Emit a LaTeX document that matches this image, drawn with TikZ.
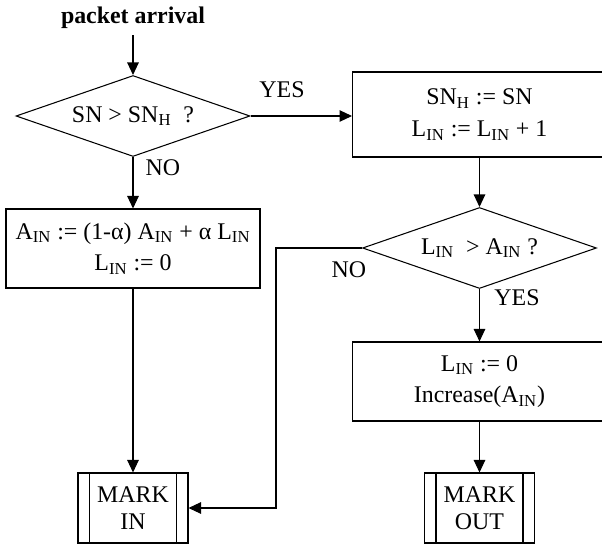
\documentclass[tikz,border=0pt]{standalone}
\usepackage{fontspec}
\setmainfont{Liberation Serif}
\usetikzlibrary{shapes.geometric,arrows.meta}
\begin{document}
\begin{tikzpicture}[x=0.02cm, y=-0.02cm, line width=0.6pt,
  font=\fontsize{13.6}{18}\selectfont,
  flowarrow/.style={-{Triangle[length=2.5mm,width=2.3mm]}},
  decision/.style={diamond, draw, aspect=2.9, inner sep=1pt, minimum width=4.68cm, minimum height=1.62cm},
  assignbox/.style={rectangle, draw, align=center, minimum width=5.08cm},
  markbox/.style={rectangle, draw, align=center, minimum width=2.2cm, minimum height=1.4cm, font=\fontsize{13.6}{15.5}\selectfont}]
\useasboundingbox (0,0) rectangle (602,544);
% nodes
\node[font=\fontsize{13.6}{16}\selectfont\bfseries] (arrival) at (133,18) {packet arrival};
\node[decision] (snh) at (133,116) {SN > SN\textsubscript{H}\ \ ?};
\node[assignbox, minimum height=1.7cm] (update) at (479.5,114.5) {SN\textsubscript{H} := SN\\L\textsubscript{IN} := L\textsubscript{IN} + 1};
\node[assignbox, minimum height=1.58cm] (average) at (133,248.5) {A\textsubscript{IN} := (1-α) A\textsubscript{IN} + α L\textsubscript{IN}\\L\textsubscript{IN} := 0};
\node[decision] (lin) at (479.5,248) {L\textsubscript{IN}\ \ > A\textsubscript{IN} ?};
\node[assignbox, minimum height=1.58cm] (reset) at (479.5,381.5) {L\textsubscript{IN} := 0\\Increase(A\textsubscript{IN})};
\node[markbox] (markin) at (133,508) {MARK\\IN};
\node[markbox] (markout) at (479.5,508) {MARK\\OUT};
\foreach \m in {markin,markout} {
  \draw ([xshift=0.24cm]\m.north west) -- ([xshift=0.24cm]\m.south west);
  \draw ([xshift=-0.24cm]\m.north east) -- ([xshift=-0.24cm]\m.south east);
}
\coordinate (turn) at (276,248);
% connectors
\draw[flowarrow] (arrival) -- (snh.north);
\draw[flowarrow] (snh.east) -- (snh.east -| update.west);
\draw[flowarrow] (snh.south) -- (average.north);
\draw[flowarrow] (update.south) -- (lin.north);
\draw[flowarrow] (lin.south) -- (reset.north);
\draw[flowarrow] (reset.south) -- (markout.north);
\draw[flowarrow] (average.south) -- (markin.north);
\draw[flowarrow] (lin.west) -- (turn) |- (markin.east);
% labels
\node (yes1) at (282,90) {YES};
\node (no1) at (163,168) {NO};
\node (no2) at (349,270) {NO};
\node (yes2) at (517,298) {YES};
\end{tikzpicture}
\end{document}
